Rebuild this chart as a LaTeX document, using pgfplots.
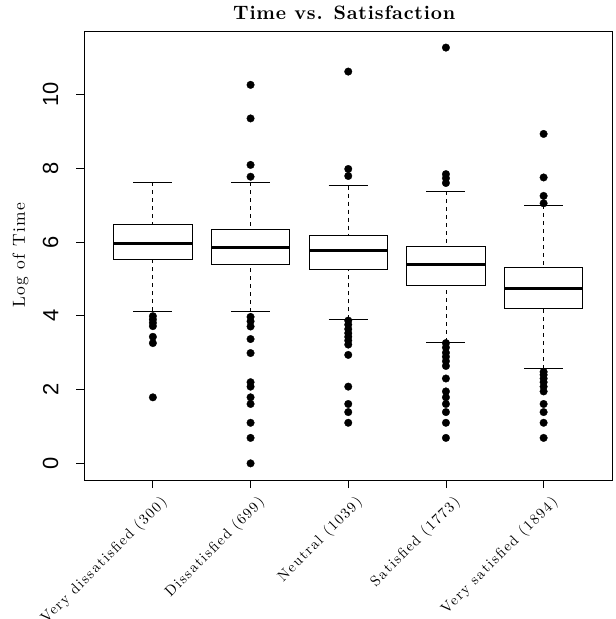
\documentclass[border=0pt]{standalone}
\usepackage{fontspec}
\usepackage{pgfplots}
\pgfplotsset{compat=1.18}
\usepgfplotslibrary{statistics}
\newfontfamily\helv{Liberation Sans}
\newfontfamily\lmx[LetterSpace=10]{lmroman10-regular.otf}
\newfontfamily\lmy[LetterSpace=8]{lmroman10-regular.otf}
\newfontfamily\lmt[LetterSpace=4]{lmroman10-bold.otf}

\begin{document}
\begin{tikzpicture}
\path[use as bounding box] (-84.5bp,-139bp) rectangle (531.5bp,480bp);
\begin{axis}[
  at={(0,0)}, anchor=south west,
  scale only axis, width=527.5bp, height=449bp,
  xmin=0.3, xmax=5.7, ymin=-0.451, ymax=11.72,
  clip=false,
  axis line style={line width=0.8bp},
  xtick={1,2,3,4,5},
  xticklabels={Very dissatisfied (300), Dissatisfied (699), Neutral (1039), Satisfied (1773), Very satisfied (1894)},
  ytick={0,2,4,6,8,10},
  tick align=outside, tick pos=left,
  major tick length=8bp,
  tick style={line width=0.8bp, black},
  /pgf/number format/assume math mode=true,
  xticklabel style={font=\lmx\fontsize{14.8}{16}\selectfont, xshift=12bp, yshift=-12bp, rotate=45, anchor=east, inner sep=0pt},
  yticklabel style={font=\helv\fontsize{22}{24}\selectfont, xshift=-18bp, rotate=90, anchor=south, inner sep=0pt},
  title={Time vs. Satisfaction},
  title style={font=\lmt\fontsize{19.5}{22}\selectfont, at={(0.5,1)}, anchor=base, yshift=6bp, xshift=-4bp},
  every axis y label/.style={at={([xshift=-59.5bp]axis description cs:0,0.5)}, rotate=90, anchor=base, font=\lmy\fontsize{17.5}{20}\selectfont},
  ylabel={Log of Time},
  boxplot/draw direction=y,
  boxplot/box extend=0.8,
  boxplot/whisker extend=0.4,
  boxplot/every box/.style={draw=black, line width=0.8bp, fill=white},
  boxplot/every median/.style={draw=black, line width=3bp},
  boxplot/draw/lower whisker/.code={
    \draw[black, line width=0.8bp, dash pattern=on 4bp off 4bp] (boxplot box cs:\pgfplotsboxplotvalue{lower whisker},0.5) -- (boxplot box cs:\pgfplotsboxplotvalue{lower quartile},0.5);
    \draw[black, line width=0.8bp] (boxplot whisker cs:\pgfplotsboxplotvalue{lower whisker},0) -- (boxplot whisker cs:\pgfplotsboxplotvalue{lower whisker},1);
  },
  boxplot/draw/upper whisker/.code={
    \draw[black, line width=0.8bp, dash pattern=on 4bp off 4bp] (boxplot box cs:\pgfplotsboxplotvalue{upper whisker},0.5) -- (boxplot box cs:\pgfplotsboxplotvalue{upper quartile},0.5);
    \draw[black, line width=0.8bp] (boxplot whisker cs:\pgfplotsboxplotvalue{upper whisker},0) -- (boxplot whisker cs:\pgfplotsboxplotvalue{upper whisker},1);
  },
  outl/.style={black, mark=*, mark size=3.8bp, mark options={draw=black, fill=black, line width=0.3bp, solid}},
]
\addplot[outl, boxplot prepared={draw position=1, lower whisker=4.13, lower quartile=5.53, median=5.97, upper quartile=6.49, upper whisker=7.62}]
  coordinates {(1,3.99) (1,3.90) (1,3.81) (1,3.72) (1,3.43) (1,3.26) (1,1.79)};
\addplot[outl, boxplot prepared={draw position=2, lower whisker=4.11, lower quartile=5.40, median=5.86, upper quartile=6.33, upper whisker=7.62}]
  coordinates {(2,10.26) (2,9.35) (2,8.09) (2,7.77) (2,3.97) (2,3.85) (2,3.71) (2,3.37) (2,2.99) (2,2.20) (2,2.08) (2,1.79) (2,1.61) (2,1.10) (2,0.69) (2,0)};
\addplot[outl, boxplot prepared={draw position=3, lower whisker=3.90, lower quartile=5.27, median=5.76, upper quartile=6.19, upper whisker=7.53}]
  coordinates {(3,10.62) (3,7.98) (3,7.79) (3,3.87) (3,3.76) (3,3.64) (3,3.53) (3,3.43) (3,3.33) (3,3.22) (3,2.94) (3,2.08) (3,1.61) (3,1.39) (3,1.10)};
\addplot[outl, boxplot prepared={draw position=4, lower whisker=3.29, lower quartile=4.83, median=5.39, upper quartile=5.88, upper whisker=7.38}]
  coordinates {(4,11.27) (4,7.84) (4,7.73) (4,7.60) (4,3.26) (4,3.14) (4,3.00) (4,2.89) (4,2.77) (4,2.64) (4,2.30) (4,1.95) (4,1.79) (4,1.61) (4,1.39) (4,1.10) (4,0.69)};
\addplot[outl, boxplot prepared={draw position=5, lower whisker=2.57, lower quartile=4.20, median=4.74, upper quartile=5.31, upper whisker=6.99}]
  coordinates {(5,8.93) (5,7.75) (5,7.25) (5,7.05) (5,2.48) (5,2.40) (5,2.30) (5,2.20) (5,2.08) (5,1.95) (5,1.61) (5,1.39) (5,1.10) (5,0.69)};
\end{axis}
\end{tikzpicture}
\end{document}
